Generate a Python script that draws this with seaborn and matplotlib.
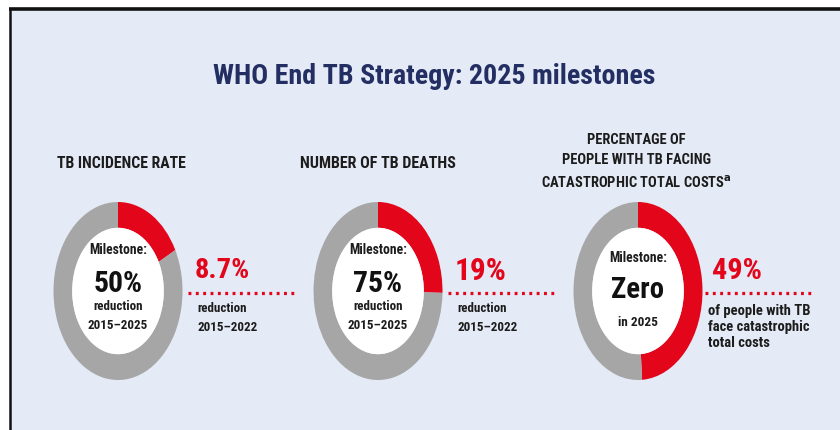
import matplotlib
matplotlib.use("Agg")
import matplotlib.pyplot as plt
from matplotlib.patches import Rectangle
from matplotlib import font_manager
import seaborn as sns
import pandas as pd

# ---------------- data ----------------
categories = ["TB INCIDENCE RATE", "NUMBER OF TB DEATHS",
              "PERCENTAGE OF\nPEOPLE WITH TB FACING\nCATASTROPHIC TOTAL COSTS$^{\\mathbf{a}}$"]
milestone_labels = ["50%", "75%", "Zero"]
milestone_sub = ["reduction\n2015–2025", "reduction\n2015–2025", "in 2025"]
milestone_scale = [50, 75, 100]          # full ring represents this value
achieved = [8.7, 19, 49]
achieved_labels = ["8.7%", "19%", "49%"]
achieved_sub = ["reduction\n2015–2022", "reduction\n2015–2022",
                "of people with TB\nface catastrophic\ntotal costs"]
title = "WHO End TB Strategy: 2025 milestones"

# ---------------- style ----------------
sns.set_theme(style="white")
installed = {f.name for f in font_manager.fontManager.ttflist}
prefs = ["Roboto Condensed", "Liberation Sans Narrow", "Open Sans Condensed",
         "DejaVu Sans Condensed", "Lato", "Roboto", "DejaVu Sans"]
FONT = [f for f in prefs if f in installed] + ["DejaVu Sans"]
plt.rcParams["font.family"] = FONT
RED = "#E3061B"
GREY = "#A6A6A6"
BG = "#E4EAF6"
DARK = "#1C1C1C"
NAVY = "#232E63"

W, H = 840, 430
fig = plt.figure(figsize=(W / 100, H / 100), dpi=100)
fig.patch.set_facecolor("white")

# background layer (pixel coordinates)
bg = fig.add_axes([0, 0, 1, 1], zorder=0)
bg.set_xlim(0, W)
bg.set_ylim(H, 0)
bg.axis("off")
bg.add_patch(Rectangle((10, 9), W - 10, H - 9, facecolor=BG, edgecolor="none"))
bg.plot([9, W], [8.5, 8.5], color="#111111", lw=2.6, solid_capstyle="butt")
bg.plot([10, 10], [8, H], color="#111111", lw=1.8, solid_capstyle="butt")

# donuts
centers_x = [118, 378, 638]
cy, rx, ry = 291, 64.5, 89
for i, cx in enumerate(centers_x):
    ax = fig.add_axes([(cx - rx) / W, 1 - (cy + ry) / H, 2 * rx / W, 2 * ry / H], zorder=1)
    frac = achieved[i] / milestone_scale[i]
    ax.pie([frac, 1 - frac], colors=[RED, GREY], startangle=90, counterclock=False,
           radius=1, wedgeprops=dict(width=0.29, linewidth=0))
    ax.pie([1], colors=["white"], radius=0.71, wedgeprops=dict(linewidth=0))
    ax.set_aspect("auto")
    ax.set_xlim(-1, 1)
    ax.set_ylim(-1, 1)
    ax.axis("off")

# text layer
tx = fig.add_axes([0, 0, 1, 1], zorder=2)
tx.set_xlim(0, W)
tx.set_ylim(H, 0)
tx.axis("off")
tx.patch.set_alpha(0)

fitted = []


def put(x, y, s, width, **kw):
    """Place text and remember the target pixel width of its widest line."""
    t = tx.text(x, y, s, fontweight="bold", **kw)
    fitted.append((t, width))
    return t


put(434, 76, title, 442, ha="center", va="center", fontsize=18, color=NAVY)

# headers
put(121, 163, categories[0], 128, ha="center", va="center", fontsize=10, color=DARK)
put(378, 163, categories[1], 155, ha="center", va="center", fontsize=10, color=DARK)
put(636, 162, categories[2], 190, ha="center", va="center", fontsize=10, color=DARK,
    linespacing=1.55)

line_x0 = [188, 448, 705]
line_x1 = [298, 558, 815]
for i, cx in enumerate(centers_x):
    if i < 2:
        put(cx, 250, "Milestone:", 58, ha="center", va="center", fontsize=9.5, color=DARK)
        put(cx, 284, milestone_labels[i], 49, ha="center", va="center", fontsize=22,
            color="#111111")
        put(cx, 316, milestone_sub[i], 60, ha="center", va="center", fontsize=9.5,
            color=DARK, linespacing=1.55)
    else:
        put(cx, 258, "Milestone:", 58, ha="center", va="center", fontsize=9.5, color=DARK)
        put(cx, 290, milestone_labels[i], 53, ha="center", va="center", fontsize=22,
            color="#111111")
        put(cx, 322, milestone_sub[i], 40, ha="center", va="center", fontsize=9.5,
            color=DARK)
    # achieved value
    put(line_x0[i] + 7, 271, achieved_labels[i], [55, 52, 50][i], ha="left",
        va="center", fontsize=20, color=RED)
    # dotted connector
    seg = pd.DataFrame({"x": [line_x0[i], line_x1[i]], "y": [293, 293]})
    sns.lineplot(data=seg, x="x", y="y", ax=tx, color=RED, lw=2.3,
                 linestyle=(0, (0.9, 1.4)), dash_capstyle="butt")
    if i < 2:
        put(line_x0[i] + 9, 318, achieved_sub[i], 60, ha="left", va="center",
            fontsize=9.5, color=DARK, linespacing=1.55)
    else:
        put(line_x0[i] + 3, 327, achieved_sub[i], 103, ha="left", va="center",
            fontsize=9, color=DARK, linespacing=1.2)

tx.set_xlim(0, W)
tx.set_ylim(H, 0)
tx.set_xlabel("")
tx.set_ylabel("")

# scale font sizes so each text's width matches the reference
fig.canvas.draw()
r = fig.canvas.get_renderer()
for _ in range(2):
    for t, wd in fitted:
        bb = t.get_window_extent(renderer=r)
        t.set_fontsize(t.get_fontsize() * wd / bb.width)
    fig.canvas.draw()

fig.savefig("out.png", dpi=100, facecolor=fig.get_facecolor())
